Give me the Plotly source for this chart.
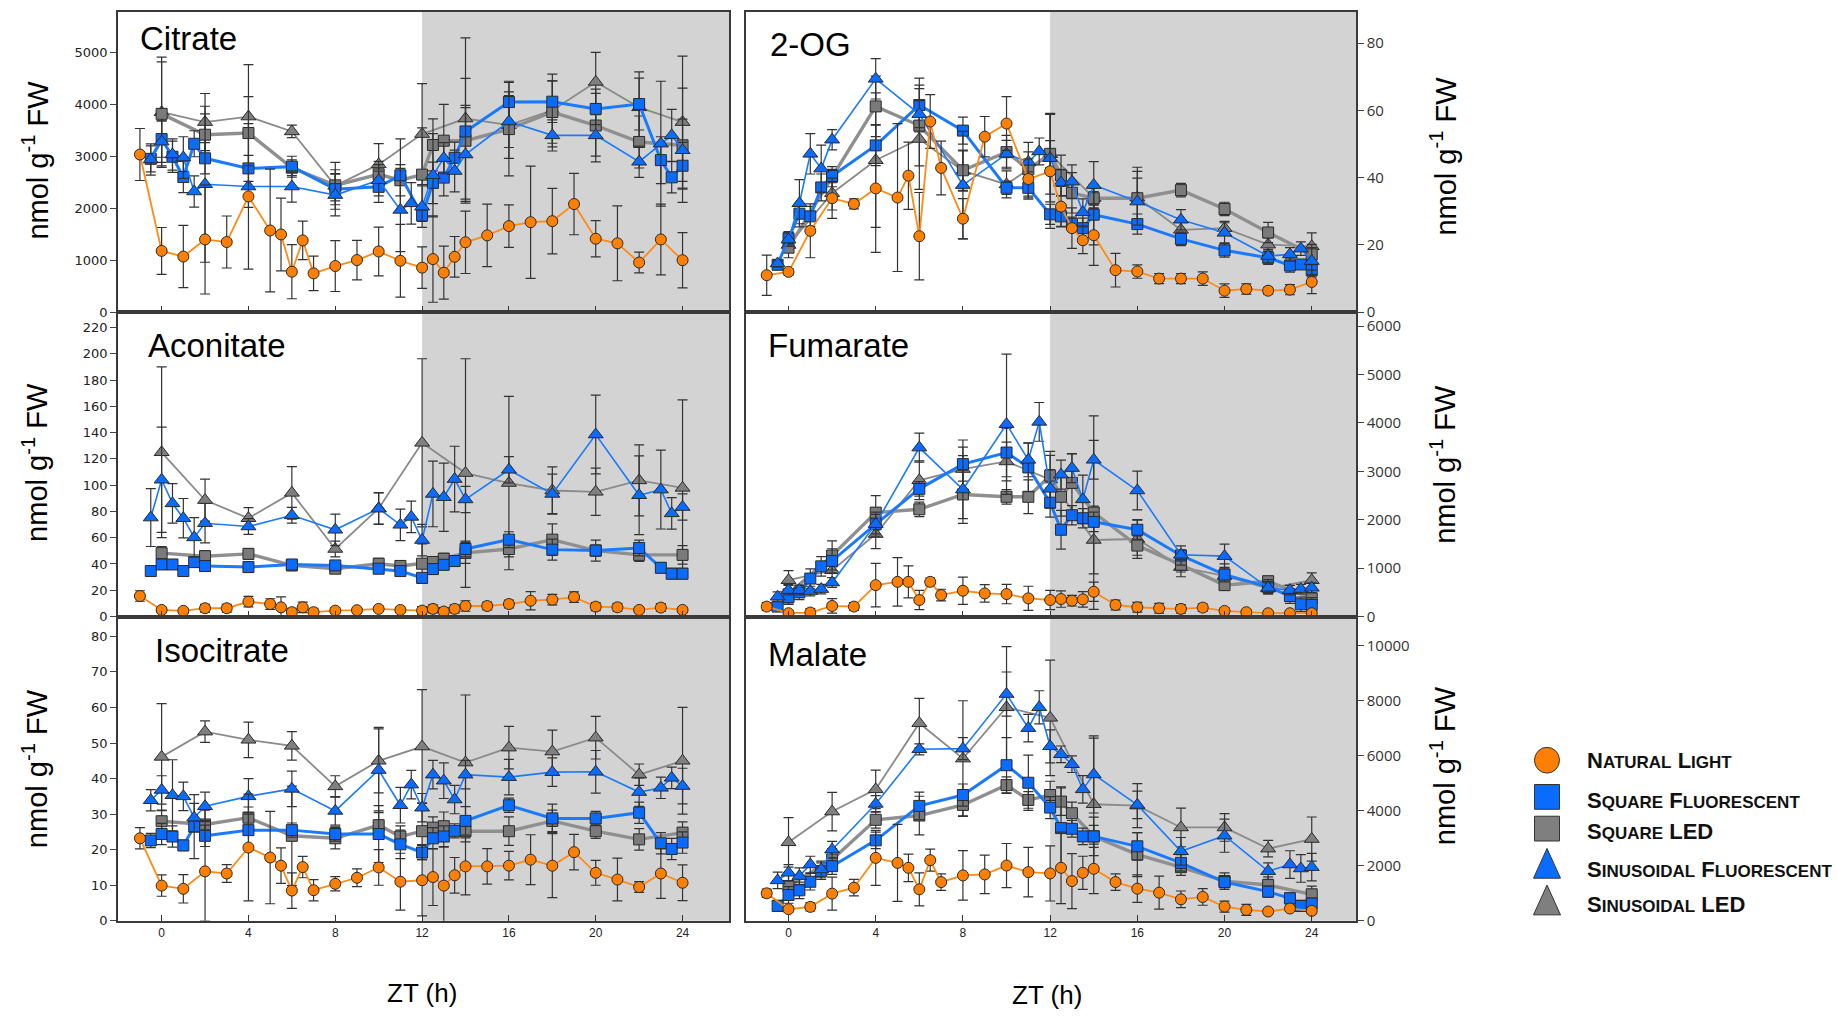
import plotly.graph_objects as go

W, H = 1837, 1019

# ---------------- time grids (ZT, h) ----------------
t_nl = [-1, 0, 1, 2, 3, 4, 5, 5.5, 6, 6.5, 7, 8, 9, 10, 11, 12, 12.5, 13, 13.5, 14, 15, 16, 17, 18, 19, 20, 21, 22, 23, 24]
t_sqfl = [-0.5, 0, 0.5, 1, 1.5, 2, 4, 6, 8, 10, 11, 12, 12.5, 13, 13.5, 14, 16, 18, 20, 22, 23, 23.5, 24]
t_sqled = [0, 2, 4, 6, 8, 10, 11, 12, 12.5, 13, 14, 16, 18, 20, 22, 24]
t_sinfl = [-0.5, 0, 0.5, 1, 1.5, 2, 4, 6, 8, 10, 11, 11.5, 12, 12.5, 13, 13.5, 14, 16, 18, 20, 22, 23, 23.5, 24]
t_sinled = [0, 2, 4, 6, 8, 10, 12, 14, 16, 18, 20, 22, 24]

# ---------------- Citrate ----------------
cit_nl = [3033, 1179, 1071, 1400, 1350, 2227, 1572, 1496, 779, 1381, 747, 888, 1003, 1168, 990, 857, 1022, 761, 1066, 1345, 1478, 1656, 1731, 1751, 2080, 1413, 1325, 956, 1400, 1000]
cit_nl_err = [500, 450, 600, 1050, 500, 1400, 1180, 700, 520, 370, 330, 490, 380, 470, 700, 400, 830, 510, 390, 600, 600, 410, 1080, 630, 590, 350, 720, 200, 680, 530]
cit_sqfl = [2950, 3330, 2990, 2600, 3240, 2960, 2766, 2800, 2367, 2411, 2633, 1859, 2487, 2589, 2970, 3477, 4042, 4049, 3909, 4004, 2925, 2594, 2817]
cit_sqfl_err = [250, 350, 300, 300, 250, 300, 250, 200, 300, 300, 700, 100, 400, 350, 300, 500, 400, 400, 300, 500, 450, 300, 450]
cit_sqled = [3815, 3414, 3446, 2779, 2440, 2652, 2538, 2646, 3217, 3299, 3299, 3522, 3850, 3591, 3274, 3211]
cit_sqled_err = [1000, 400, 700, 150, 300, 250, 300, 900, 500, 700, 1200, 900, 600, 700, 500, 1100]
cit_sinfl = [2937, 3280, 3033, 2975, 2322, 2461, 2417, 2417, 2253, 2538, 1967, 2094, 2030, 2633, 2963, 2716, 3033, 3668, 3401, 3401, 2894, 3242, 3401, 3115]
cit_sinfl_err = [300, 400, 300, 400, 300, 1500, 400, 300, 400, 300, 800, 400, 400, 800, 300, 400, 900, 500, 300, 400, 300, 1200, 500, 600]
cit_sinled = [3846, 3656, 3763, 3477, 2430, 2843, 3426, 3725, 3598, 3880, 4429, 3941, 3656]
cit_sinled_err = [1060, 550, 1000, 120, 450, 400, 970, 1550, 640, 700, 570, 680, 1270]

# ---------------- 2-OG ----------------
og_nl = [11.0, 12.0, 24.2, 33.9, 32.2, 36.8, 34.1, 40.6, 22.6, 56.7, 42.9, 27.8, 52.2, 56.1, 39.6, 41.9, 31.4, 25.0, 21.4, 22.9, 12.5, 12.1, 10.0, 10.0, 10.0, 6.4, 6.9, 6.4, 6.7, 9.0]
og_nl_err = [6, 1, 8, 6, 1.5, 19, 22, 10, 13, 8, 8, 6, 6, 8, 6, 17, 6, 6, 4, 9, 5, 2, 1.5, 1.5, 2, 2, 1.5, 1, 1.5, 3.5]
og_sqfl = [14.1, 22.0, 29.3, 28.5, 37.1, 40.5, 49.6, 61.6, 54.0, 37.0, 37.0, 29.1, 28.5, 26.3, 25.0, 29.0, 26.2, 21.8, 18.4, 16.2, 13.9, 14.2, 12.5]
og_sqfl_err = [1, 2, 3, 3, 4, 2, 6, 8, 4, 2, 3, 3, 3, 2, 3, 9, 3, 2, 2, 2, 2, 1, 2]
og_sqled = [19.2, 40.3, 61.2, 55.5, 42.2, 47.6, 42.5, 47.1, 40.7, 35.5, 33.9, 33.9, 36.3, 30.7, 23.7, 17.2]
og_sqled_err = [3, 3, 9, 12, 6, 5, 8, 12, 6, 6, 2, 8, 2, 2, 3, 3]
og_sinfl = [14.5, 21.6, 32.4, 47.1, 42.7, 51.3, 69.4, 58.9, 37.8, 47.1, 44.7, 47.8, 45.8, 38.5, 38.8, 29.7, 37.8, 32.9, 27.5, 23.6, 16.7, 17.2, 18.9, 15.2]
og_sinfl_err = [1, 2, 7, 6, 7, 3, 6, 4, 16, 4, 3, 4, 13, 4, 5, 4, 7, 7, 3, 3, 2, 2, 2, 4]
og_sinled = [20.0, 35.4, 45.2, 51.5, 42.0, 38.0, 47.0, 34.0, 34.1, 24.5, 25.0, 20.1, 19.6]
og_sinled_err = [2, 5, 20, 15, 6, 4, 4, 3, 9, 3, 2, 2, 4]

# ---------------- Aconitate ----------------
aco_nl = [15.6, 5.0, 4.3, 6.3, 6.3, 11.3, 9.5, 7.0, 3.3, 7.0, 3.3, 4.5, 4.8, 5.8, 5.0, 4.5, 5.8, 3.8, 5.8, 8.0, 8.0, 9.5, 12.0, 12.8, 14.8, 7.5, 7.0, 5.0, 6.8, 5.0]
aco_nl_err = [4, 2, 2, 3, 3, 4, 4, 8, 3, 4, 3, 2, 2, 2, 2, 3, 3, 3, 3, 4, 3, 3, 7, 4, 4, 3, 3, 2, 3, 2]
aco_sqfl = [34.6, 39.6, 39.6, 34.6, 41.4, 38.4, 37.6, 39.6, 38.9, 36.4, 34.6, 29.4, 36.1, 39.4, 42.2, 51.4, 58.5, 50.9, 50.2, 52.2, 37.1, 32.6, 32.6]
aco_sqfl_err = [3, 3, 3, 3, 4, 4, 4, 3, 3, 3, 3, 3, 4, 4, 4, 6, 6, 8, 8, 6, 4, 4, 4]
aco_sqled = [48.2, 45.9, 47.7, 38.9, 36.4, 40.2, 38.5, 40.2, 41.5, 44.0, 48.4, 51.4, 58.5, 50.2, 46.9, 46.9]
aco_sqled_err = [5, 4, 4, 4, 3, 4, 4, 15, 4, 4, 8, 6, 12, 4, 5, 7]
aco_sinfl = [75.3, 104.1, 86.1, 74.8, 60.2, 71.0, 68.5, 77.0, 66.0, 82.1, 69.8, 75.8, 58.2, 93.3, 90.8, 104.6, 89.1, 111.7, 93.3, 138.5, 92.3, 96.6, 78.5, 83.3]
aco_sinfl_err = [22, 40, 15, 15, 15, 15, 6, 6, 12, 12, 12, 12, 12, 25, 26, 25, 10, 10, 15, 30, 30, 30, 12, 10]
aco_sinled = [125, 88.6, 74.8, 94.1, 51.4, 82.3, 132.2, 109.2, 101.6, 95.9, 94.9, 103.6, 97.9]
aco_sinled_err = [65, 16, 8, 20, 6, 12, 64, 87, 66, 18, 18, 27, 67]

# ---------------- Fumarate ----------------
fum_nl = [205, 68, 82, 218, 205, 648, 716, 716, 341, 716, 443, 532, 477, 464, 375, 341, 361, 327, 354, 511, 239, 191, 170, 157, 184, 116, 89, 68, 68, 68]
fum_nl_err = [80, 60, 80, 150, 80, 450, 500, 330, 200, 80, 120, 280, 180, 200, 250, 200, 170, 110, 160, 200, 100, 100, 100, 90, 80, 60, 40, 30, 30, 40]
fum_sqfl = [205, 400, 498, 784, 1036, 1150, 1909, 2638, 3149, 3388, 3081, 2352, 1793, 2093, 2031, 1956, 1793, 1261, 866, 613, 423, 252, 239]
fum_sqfl_err = [100, 150, 150, 200, 200, 250, 200, 150, 350, 500, 500, 300, 400, 200, 200, 200, 200, 200, 150, 150, 150, 150, 150]
fum_sqled = [457, 1261, 2147, 2215, 2522, 2474, 2474, 2911, 2474, 2761, 2147, 1466, 1070, 648, 729, 375]
fum_sqled_err = [200, 300, 350, 150, 500, 150, 350, 500, 400, 600, 2000, 200, 150, 100, 100, 200]
fum_sinfl = [409, 545, 545, 525, 566, 702, 1909, 3490, 2624, 3974, 3238, 4022, 2638, 2931, 3067, 2420, 3238, 2604, 1275, 1247, 593, 545, 566, 593]
fum_sinfl_err = [100, 100, 100, 100, 100, 100, 250, 300, 700, 1450, 350, 400, 400, 300, 300, 500, 400, 400, 100, 250, 100, 100, 100, 100]
fum_sinled = [750, 954, 1704, 2815, 3047, 3204, 2829, 1581, 1602, 1022, 838, 579, 750]
fum_sinled_err = [200, 300, 300, 400, 600, 400, 500, 700, 400, 200, 250, 100, 150]

# ---------------- Isocitrate ----------------
iso_nl = [23.2, 9.9, 9.0, 13.9, 13.3, 20.6, 17.8, 15.5, 8.5, 15.1, 8.6, 10.4, 12.1, 15.0, 11.0, 11.4, 12.3, 9.9, 12.8, 15.3, 15.3, 15.5, 17.2, 15.5, 19.3, 13.5, 11.6, 9.5, 13.3, 10.7]
iso_nl_err = [3, 3, 4, 14, 2.5, 15, 13, 5, 5, 3, 3, 2, 2.5, 5, 8, 10, 8, 11, 5, 8, 5, 4, 7, 9, 5, 3.5, 6, 1.5, 7, 5]
iso_sqfl = [22.6, 24.4, 23.7, 21.2, 26.5, 23.9, 25.5, 25.5, 24.4, 24.4, 21.5, 19.2, 23.2, 23.7, 25.3, 28.1, 32.5, 28.8, 28.8, 30.4, 21.8, 20.2, 22.0]
iso_sqfl_err = [2, 3, 3, 1.5, 9, 3, 5, 2, 2, 8, 4, 2, 3, 3, 2, 4, 2, 4, 2, 3, 3, 3, 3]
iso_sqled = [28.0, 27.1, 29.0, 23.9, 23.2, 26.9, 23.7, 25.2, 26.2, 26.6, 25.2, 25.2, 28.1, 25.2, 22.9, 24.8]
iso_sqled_err = [3, 4, 3, 14, 3, 4, 3, 8, 3, 4, 3, 4, 3, 2, 3, 3]
iso_sinfl = [33.9, 36.8, 35.3, 35.0, 29.0, 32.2, 35.0, 37.1, 30.9, 42.4, 32.5, 38.3, 31.8, 41.1, 39.4, 34.1, 41.1, 40.4, 41.8, 41.9, 36.2, 37.4, 40.2, 37.9]
iso_sinfl_err = [3, 4, 10, 4, 4, 4, 5, 5, 4, 12, 5, 4, 4, 4, 5, 4, 4, 5, 4, 6, 4, 3, 3, 5]
iso_sinled = [46.1, 53.2, 50.9, 49.2, 37.8, 45.0, 49.0, 44.5, 48.7, 47.6, 51.5, 41.1, 45.0]
iso_sinled_err = [15, 3, 5, 4, 3, 9, 16, 19, 6, 6, 6, 3, 15]

# ---------------- Malate ----------------
mal_nl = [998, 421, 505, 986, 1202, 2284, 2103, 1923, 1142, 2200, 1406, 1647, 1683, 2007, 1767, 1719, 1923, 1442, 1743, 1887, 1406, 1166, 1022, 781, 865, 517, 397, 337, 445, 361]
mal_nl_err = [150, 100, 150, 600, 300, 1000, 1400, 500, 600, 400, 300, 900, 700, 800, 900, 1000, 1300, 1000, 600, 900, 300, 500, 600, 300, 300, 200, 200, 100, 100, 100]
mal_sqfl = [541, 938, 1106, 1418, 1803, 1983, 2921, 4171, 4567, 5649, 5012, 4111, 3365, 3341, 3065, 3065, 2704, 2103, 1406, 1058, 817, 541, 625]
mal_sqfl_err = [200, 300, 300, 300, 300, 300, 300, 500, 400, 1000, 1000, 400, 1500, 300, 300, 400, 500, 300, 200, 200, 200, 200, 200]
mal_sqled = [1262, 2224, 3666, 3822, 4207, 4928, 4387, 4567, 4327, 3906, 3065, 2404, 1947, 1442, 1298, 962]
mal_sqled_err = [500, 400, 300, 700, 400, 300, 300, 500, 500, 400, 700, 800, 300, 300, 300, 300]
mal_sinfl = [1466, 1743, 1623, 2043, 1863, 2584, 4243, 6226, 6250, 8233, 6995, 7752, 6334, 6046, 5685, 4772, 5313, 4207, 2524, 3089, 1803, 2043, 1899, 1947]
mal_sinfl_err = [300, 300, 300, 300, 300, 300, 300, 200, 400, 800, 500, 600, 600, 300, 300, 500, 1400, 500, 500, 600, 300, 500, 500, 500]
mal_sinled = [2849, 3966, 4772, 7175, 5889, 7752, 7368, 4231, 4183, 3389, 3389, 2620, 2969]
mal_sinled_err = [900, 700, 700, 900, 2100, 2200, 2100, 2400, 800, 700, 500, 300, 800]

series_names = ["Natural Light", "Square Fluorescent", "Square LED", "Sinusoidal Fluorescent", "Sinusoidal LED"]

# ---------------- layout geometry (pixels) ----------------
def px(x):
    return x / W

def py(y):
    return 1 - y / H

col_px = [(118, 729), (746, 1356)]
row_px = [(12, 315), (315, 622), (623, 929)]
xranges = [(-2.01, 26.14), (-1.95, 26.03)]

panels = [
    dict(title="Citrate", col=0, row=0, ymax=5776, dtick=1000,
         d=dict(nl=(cit_nl, cit_nl_err), sqfl=(cit_sqfl, cit_sqfl_err), sqled=(cit_sqled, cit_sqled_err),
                sinfl=(cit_sinfl, cit_sinfl_err), sinled=(cit_sinled, cit_sinled_err)),
         tpos=(138, 39)),
    dict(title="2-OG", col=1, row=0, ymax=89.3, dtick=20,
         d=dict(nl=(og_nl, og_nl_err), sqfl=(og_sqfl, og_sqfl_err), sqled=(og_sqled, og_sqled_err),
                sinfl=(og_sinfl, og_sinfl_err), sinled=(og_sinled, og_sinled_err)),
         tpos=(768, 45)),
    dict(title="Aconitate", col=0, row=1, ymax=231.6, dtick=20,
         d=dict(nl=(aco_nl, aco_nl_err), sqfl=(aco_sqfl, aco_sqfl_err), sqled=(aco_sqled, aco_sqled_err),
                sinfl=(aco_sinfl, aco_sinfl_err), sinled=(aco_sinled, aco_sinled_err)),
         tpos=(146, 349)),
    dict(title="Fumarate", col=1, row=1, ymax=6288, dtick=1000,
         d=dict(nl=(fum_nl, fum_nl_err), sqfl=(fum_sqfl, fum_sqfl_err), sqled=(fum_sqled, fum_sqled_err),
                sinfl=(fum_sinfl, fum_sinfl_err), sinled=(fum_sinled, fum_sinled_err)),
         tpos=(766, 349)),
    dict(title="Isocitrate", col=0, row=2, ymax=85.3, dtick=10,
         d=dict(nl=(iso_nl, iso_nl_err), sqfl=(iso_sqfl, iso_sqfl_err), sqled=(iso_sqled, iso_sqled_err),
                sinfl=(iso_sinfl, iso_sinfl_err), sinled=(iso_sinled, iso_sinled_err)),
         tpos=(153, 656)),
    dict(title="Malate", col=1, row=2, ymax=11012, dtick=2000,
         d=dict(nl=(mal_nl, mal_nl_err), sqfl=(mal_sqfl, mal_sqfl_err), sqled=(mal_sqled, mal_sqled_err),
                sinfl=(mal_sinfl, mal_sinfl_err), sinled=(mal_sinled, mal_sinled_err)),
         tpos=(766, 660)),
]

times = dict(nl=t_nl, sqfl=t_sqfl, sqled=t_sqled, sinfl=t_sinfl, sinled=t_sinled)
styles = dict(
    sinled=dict(symbol="triangle-up", size=13, fill="#7f7f7f", line="#8a8a8a", lw=1.8),
    sqled=dict(symbol="square", size=11, fill="#7a7a7a", line="#8f8f8f", lw=3.4),
    sqfl=dict(symbol="square", size=11, fill="#0a6cff", line="#1a7aff", lw=3.0),
    sinfl=dict(symbol="triangle-up", size=13, fill="#0a6cff", line="#1a7aff", lw=1.6),
    nl=dict(symbol="circle", size=11, fill="#ff8000", line="#ff8a14", lw=1.8),
)
draw_order = ["sinled", "sqled", "sqfl", "sinfl", "nl"]
name_of = dict(nl=series_names[0], sqfl=series_names[1], sqled=series_names[2], sinfl=series_names[3], sinled=series_names[4])

fig = go.Figure()
layout = dict(
    width=W, height=H, paper_bgcolor="white", plot_bgcolor="white",
    margin=dict(l=0, r=0, t=0, b=0), showlegend=False,
    font=dict(family="Liberation Sans, Arial, sans-serif", color="#111"),
)
shapes = []
annotations = []

for i, p in enumerate(panels):
    n = i + 1
    xa = "xaxis" if n == 1 else f"xaxis{n}"
    ya = "yaxis" if n == 1 else f"yaxis{n}"
    xr = "x" if n == 1 else f"x{n}"
    yr = "y" if n == 1 else f"y{n}"
    c0, c1 = col_px[p["col"]]
    r0, r1 = row_px[p["row"]]
    bottom = p["row"] == 2
    right = p["col"] == 1
    layout[xa] = dict(
        domain=[px(c0), px(c1)], anchor=yr, range=list(xranges[p["col"]]),
        tickvals=[0, 4, 8, 12, 16, 20, 24], ticks="inside", ticklen=6, tickcolor="#333",
        showticklabels=bottom, showgrid=False, zeroline=False,
        showline=True, mirror=True, linecolor="#3a3a3a", linewidth=1.6,
        tickfont=dict(family="Liberation Sans, Arial", size=12, color="#222"),
    )
    if right:
        yfont = dict(family="Open Sans, Noto Sans, sans-serif", size=15, color="#333")
    else:
        yfont = dict(family="DejaVu Sans, Verdana, sans-serif", size=13, color="#222")
    layout[ya] = dict(
        domain=[py(r1), py(r0)], anchor=xr, range=[0, p["ymax"]], dtick=p["dtick"], tick0=0,
        tickformat="d",
        ticks="outside", ticklen=6, tickcolor="#444", side="right" if right else "left",
        showgrid=False, zeroline=False, showline=True, mirror=True,
        linecolor="#3a3a3a", linewidth=1.6, tickfont=yfont,
    )
    # dark-period shading (ZT 12 to end)
    shapes.append(dict(type="rect", xref=xr, yref=f"{yr} domain", x0=12, x1=xranges[p["col"]][1],
                       y0=0, y1=1, fillcolor="#d3d3d3", line=dict(width=0), layer="below"))
    for key in draw_order:
        vals, errs = p["d"][key]
        tt = times[key]
        assert len(vals) == len(tt) == len(errs), (p["title"], key)
        s = styles[key]
        fig.add_trace(go.Scatter(
            x=tt, y=vals, xaxis=xr, yaxis=yr, mode="lines+markers", name=name_of[key],
            line=dict(color=s["line"], width=s["lw"]),
            marker=dict(symbol=s["symbol"], size=s["size"], color=s["fill"],
                        line=dict(color="#2a2a2a", width=1)),
            error_y=dict(type="data", array=errs, visible=True, color="#333333", thickness=1.2, width=5),
            showlegend=False,
        ))
    annotations.append(dict(text=p["title"], xref="paper", yref="paper", x=px(p["tpos"][0]), y=py(p["tpos"][1]),
                            xanchor="left", yanchor="middle", showarrow=False,
                            font=dict(family="Liberation Sans, Arial", size=33, color="#000")))

# y-axis titles
ytitle = "nmol g<sup>-1</sup> FW"
for (xc, yc) in [(35, 162), (35, 467), (35, 776), (1443, 158), (1443, 469), (1443, 773)]:
    annotations.append(dict(text=ytitle, xref="paper", yref="paper", x=px(xc), y=py(yc),
                            xanchor="center", yanchor="middle", textangle=-90, showarrow=False,
                            font=dict(family="Liberation Sans, Arial", size=29, color="#000")))
# x-axis titles
for (xc, yc) in [(422, 1002), (1047, 1004)]:
    annotations.append(dict(text="ZT (h)", xref="paper", yref="paper", x=px(xc), y=py(yc),
                            xanchor="center", yanchor="middle", showarrow=False,
                            font=dict(family="Liberation Sans, Arial", size=26, color="#000")))

# ---------------- legend (drawn) ----------------
def smallcaps(s, small=17):
    out = []
    for word in s.split(" "):
        if word.isupper():
            out.append(word)
        else:
            out.append(word[0].upper() + f"<span style='font-size:{small}px'>{word[1:].upper()}</span>")
    return "<b>" + " ".join(out) + "</b>"

lx = 1547
leg_items = [
    ("circle", "#ff8000", 767, series_names[0]),
    ("square", "#0a6cff", 804, series_names[1]),
    ("square", "#7f7f7f", 836, series_names[2]),
    ("triangle", "#0a6cff", 871, series_names[3]),
    ("triangle", "#7f7f7f", 908, series_names[4]),
]
text_y = [767, 808, 839, 877, 913]
for (kind, colr, yc, label), ty in zip(leg_items, text_y):
    if kind == "circle":
        shapes.append(dict(type="circle", xref="paper", yref="paper", x0=px(lx - 12.5), x1=px(lx + 12.5),
                           y0=py(yc + 13), y1=py(yc - 13), fillcolor=colr, line=dict(color="#333", width=1)))
    elif kind == "square":
        shapes.append(dict(type="rect", xref="paper", yref="paper", x0=px(lx - 12.5), x1=px(lx + 12.5),
                           y0=py(yc + 12.5), y1=py(yc - 12.5), fillcolor=colr, line=dict(color="#333", width=1)))
    else:
        path = (f"M {px(lx - 13.5)},{py(yc + 15)} L {px(lx + 13.5)},{py(yc + 15)} "
                f"L {px(lx)},{py(yc - 15)} Z")
        shapes.append(dict(type="path", xref="paper", yref="paper", path=path, fillcolor=colr,
                           line=dict(color="#333", width=1)))
    annotations.append(dict(text=smallcaps(label), xref="paper", yref="paper", x=px(1585), y=py(ty),
                            xanchor="left", yanchor="middle", showarrow=False,
                            font=dict(family="Liberation Sans, Arial", size=22, color="#111")))

layout["shapes"] = shapes
layout["annotations"] = annotations
fig.update_layout(**layout)
fig.write_html("out.html")
